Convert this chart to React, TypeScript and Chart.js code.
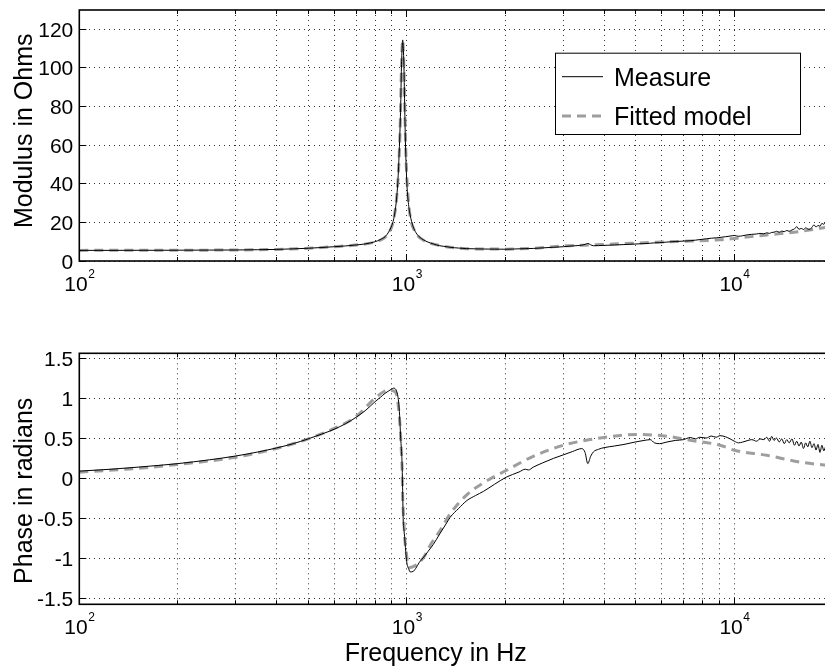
import { useEffect, useRef } from 'react';
import { Chart, registerables } from 'chart.js';

Chart.register(...registerables);

// ---------------- data ----------------
const measureFreq = [
  100, 125, 150, 175, 200, 250, 300, 350, 400, 450,
  500, 550, 600, 650, 700, 750, 800, 830, 858, 880,
  900, 910, 920, 930, 938, 942, 949, 955, 958, 962,
  967, 971, 975, 980, 984, 990, 1000, 1014, 1023, 1045,
  1065, 1090, 1126, 1160, 1205, 1260, 1324, 1355, 1440, 1524,
  1620, 1714, 1850, 2010, 2200, 2300, 2350, 2432, 2600, 2800,
  3005, 3200, 3420, 3500, 3568, 3640, 3710, 3850, 4000, 4300,
  4600, 5000, 5300, 5535, 5700, 5900, 6220, 6600, 6990, 7330,
  7600, 7850, 8200, 8500, 8800, 9040, 9400, 9700, 10000, 10300,
  10600, 11000, 11300, 11700, 11970, 12300, 12560, 12800, 13000, 13210,
  13450, 13700, 13950, 14200, 14450, 14700, 14990, 15250, 15500, 15750,
  16000, 16250, 16500, 16750, 17000, 17250, 17500, 17750, 18000, 18250,
  18500, 18750, 19000, 19300, 19600, 20000,
];

const measureModulus = [
  5.5, 5.5, 5.55, 5.55, 5.6, 5.65, 5.7, 5.85, 6.0, 6.3,
  6.6, 7.0, 7.4, 7.8, 8.3, 8.9, 10.0, 11.1, 12.6, 15.0,
  18.5, 21.2, 25.5, 32, 40.2, 46, 59.2, 73, 81.7, 98,
  110, 114.5, 111, 100, 84, 62, 40.2, 28.1, 24, 17.8,
  14.8, 12.6, 10.9, 9.8, 8.8, 7.9, 7.4, 7.1, 6.7, 6.4,
  6.3, 6.2, 6.15, 6.1, 6.3, 6.4, 6.45, 6.5, 6.8, 7.1,
  7.4, 7.8, 8.2, 8.6, 9.1, 8.4, 7.9, 8.0, 8.1, 8.3,
  8.5, 8.8, 9.0, 9.2, 9.4, 9.5, 9.8, 10.1, 10.3, 10.5,
  10.8, 11.1, 11.5, 11.8, 12.0, 12.2, 12.6, 12.9, 13.2, 12.8,
  13.1, 13.6, 13.8, 14.0, 14.3, 14.1, 14.6, 14.3, 14.8, 14.9,
  15.4, 14.9, 15.5, 15.2, 15.8, 15.4, 16.1, 16.6, 17.8, 16.4,
  16.9, 16.3, 17.2, 16.6, 16.4, 17.5, 18.7, 17.6, 18.4, 18.0,
  19.5, 19.0, 19.9, 19.3, 19.9, 19.8,
];

const measurePhase = [
  0.096, 0.12, 0.145, 0.168, 0.19, 0.238, 0.285, 0.335, 0.386, 0.44,
  0.5, 0.56, 0.62, 0.69, 0.77, 0.86, 0.966, 1.02, 1.07, 1.1,
  1.125, 1.135, 1.13, 1.1, 1.04, 0.99, 0.84, 0.61, 0.5, 0.38,
  0.19, -0.15, -0.53, -0.64, -0.72, -0.86, -1.05, -1.13, -1.165, -1.16,
  -1.12, -1.05, -0.98, -0.91, -0.82, -0.69, -0.55, -0.483, -0.37, -0.273,
  -0.21, -0.157, -0.07, 0.02, 0.085, 0.12, 0.11, 0.146, 0.2, 0.255,
  0.3, 0.34, 0.378, 0.33, 0.19, 0.28, 0.336, 0.37, 0.39, 0.41,
  0.43, 0.462, 0.48, 0.49, 0.45, 0.44, 0.46, 0.48, 0.49, 0.517,
  0.5, 0.52, 0.51, 0.535, 0.52, 0.54, 0.525, 0.5, 0.47, 0.45,
  0.46, 0.48, 0.49, 0.47, 0.5, 0.49, 0.52, 0.47, 0.53, 0.48,
  0.51, 0.46, 0.5, 0.44, 0.49, 0.45, 0.5, 0.42, 0.47, 0.41,
  0.46, 0.38, 0.45, 0.4, 0.47, 0.39, 0.44, 0.36, 0.43, 0.33,
  0.42, 0.35, 0.4, 0.36, 0.41, 0.38,
];

const modelFreq = [
  100, 150, 200, 300, 400, 500, 600, 700, 800, 850,
  880, 910, 931, 945, 955, 962, 967, 971, 975, 980,
  987, 995, 1005, 1023, 1057, 1122, 1191, 1262, 1355, 1524,
  1714, 2010, 2432, 3005, 3500, 4000, 5000, 6220, 7330, 9040,
  10000, 12560, 15850, 20000,
];

const modelModulus = [
  5.5, 5.55, 5.6, 5.7, 6.0, 6.6, 7.4, 8.3, 9.8, 11.8,
  14.5, 21, 33, 50, 72, 98, 110, 114.5, 110, 99,
  75, 52, 37, 23.5, 15.5, 10.8, 9.0, 8.0, 7.1, 6.4,
  6.2, 6.15, 6.6, 7.8, 8.2, 8.6, 9.3, 9.9, 10.3, 11.0,
  11.7, 13.5, 15.3, 18.0,
];

const modelPhase = [
  0.083, 0.13, 0.18, 0.27, 0.38, 0.5, 0.63, 0.78, 1.01, 1.09,
  1.11, 1.1, 1.05, 0.85, 0.61, 0.35, 0.15, -0.23, -0.4, -0.56,
  -0.78, -0.9, -1.05, -1.11, -1.09, -0.99, -0.8, -0.65, -0.44, -0.2,
  -0.05, 0.104, 0.281, 0.42, 0.48, 0.517, 0.555, 0.534, 0.483, 0.42,
  0.357, 0.294, 0.21, 0.16,
];

const xGridValues = [
  100, 200, 300, 400, 500, 600, 700, 800, 900,
  1000, 2000, 3000, 4000, 5000, 6000, 7000, 8000, 9000,
  10000, 20000,
];
const xLabelValues = [100, 1000, 10000];
const xLabelBase = '10';
const xLabelExponents = ['2', '3', '4'];

const modulusTicks = [0, 20, 40, 60, 80, 100, 120];
const modulusTickLabels = ['0', '20', '40', '60', '80', '100', '120'];
const phaseTicks = [-1.5, -1, -0.5, 0, 0.5, 1, 1.5];
const phaseTickLabels = ['-1.5', '-1', '-0.5', '0', '0.5', '1', '1.5'];

const seriesLabels = ['Measure', 'Fitted model'];
const modulusTitle = 'Modulus in Ohms';
const phaseTitle = 'Phase in radians';
const freqTitle = 'Frequency in Hz';

// ---------------- styling / layout ----------------
const FONT = '"Liberation Sans", Arial, Helvetica, sans-serif';
const CANVAS_W = 833;
const AXIS_LEFT = 79.3;
const AREA_H = 251;
const TICK_FONT = 21;
const TITLE_FONT = 25;

type PanelOpts = {
  height: number;
  top: number;
  measure: number[];
  model: number[];
  yMin: number;
  yMax: number;
  yTicks: number[];
  yLabels: string[];
  yTitle: string;
  yTitleCenter: number;
  xTitle?: string;
  xTitleX?: number;
  xTitleBaseline?: number;
  legend?: { x: number; y: number; w: number; h: number };
};

function toPoints(xs: number[], ys: number[]) {
  return xs.map((x, i) => ({ x, y: ys[i] }));
}

function align(p: number) {
  return Math.round(p - 0.5) + 0.5;
}

function makeConfig(o: PanelOpts): any {
  const framePlugin = {
    id: 'matlabFrame',
    afterDraw(chart: any) {
      const { ctx, chartArea: a } = chart;
      const xs = chart.scales.x;
      const ys = chart.scales.y;
      ctx.save();
      ctx.strokeStyle = '#000';
      ctx.fillStyle = '#000';
      ctx.setLineDash([]);
      ctx.lineWidth = 1;
      ctx.beginPath();
      for (const v of xGridValues) {
        const px = align(xs.getPixelForValue(v));
        const len = xLabelValues.includes(v) ? 7 : 4;
        ctx.moveTo(px, a.bottom);
        ctx.lineTo(px, a.bottom - len);
        ctx.moveTo(px, a.top);
        ctx.lineTo(px, a.top + len);
      }
      for (const v of o.yTicks) {
        const py = align(ys.getPixelForValue(v));
        ctx.moveTo(a.left, py);
        ctx.lineTo(a.left + 7, py);
        ctx.moveTo(a.right, py);
        ctx.lineTo(a.right - 7, py);
      }
      ctx.stroke();
      ctx.lineWidth = 1.6;
      ctx.strokeRect(a.left, a.top, a.right - a.left, a.bottom - a.top);

      // y tick labels
      ctx.font = `${TICK_FONT}px ${FONT}`;
      ctx.textAlign = 'right';
      ctx.textBaseline = 'alphabetic';
      o.yTicks.forEach((v, i) => {
        ctx.fillText(o.yLabels[i], a.left - 6, ys.getPixelForValue(v) + 0.358 * TICK_FONT);
      });

      // x tick labels (10 with superscript exponent)
      ctx.textAlign = 'left';
      xLabelValues.forEach((v, i) => {
        const px = xs.getPixelForValue(v);
        ctx.font = `${TICK_FONT}px ${FONT}`;
        const w1 = ctx.measureText(xLabelBase).width;
        ctx.font = `12px ${FONT}`;
        const w2 = ctx.measureText(xLabelExponents[i]).width;
        const start = px - (w1 + w2) / 2;
        const base = a.bottom + 29.7;
        ctx.font = `${TICK_FONT}px ${FONT}`;
        ctx.fillText(xLabelBase, start, base);
        ctx.font = `12px ${FONT}`;
        ctx.fillText(xLabelExponents[i], start + w1 + 0.5, base - 13);
      });

      // y title
      ctx.save();
      ctx.translate(32, o.yTitleCenter);
      ctx.rotate(-Math.PI / 2);
      ctx.font = `${TITLE_FONT}px ${FONT}`;
      ctx.textAlign = 'center';
      ctx.fillText(o.yTitle, 0, 0);
      ctx.restore();

      // x title
      if (o.xTitle) {
        ctx.font = `${TITLE_FONT}px ${FONT}`;
        ctx.textAlign = 'center';
        ctx.fillText(o.xTitle, o.xTitleX, o.xTitleBaseline);
      }

      // legend
      if (o.legend) {
        const L = o.legend;
        ctx.fillStyle = '#fff';
        ctx.fillRect(L.x, L.y, L.w, L.h);
        ctx.lineWidth = 1;
        ctx.strokeStyle = '#000';
        ctx.strokeRect(L.x + 0.5, L.y + 0.5, L.w, L.h);
        chart.data.datasets.forEach((ds: any, i: number) => {
          const ly = L.y + 24 + i * 39.3;
          ctx.save();
          ctx.strokeStyle = ds.borderColor;
          ctx.lineWidth = ds.borderWidth;
          ctx.setLineDash(ds.borderDash || []);
          ctx.beginPath();
          ctx.moveTo(L.x + 7, ly);
          ctx.lineTo(L.x + 48, ly);
          ctx.stroke();
          ctx.restore();
          ctx.fillStyle = '#000';
          ctx.font = `${TITLE_FONT}px ${FONT}`;
          ctx.textAlign = 'left';
          ctx.fillText(ds.label, L.x + 59, ly + 9.3);
        });
      }
      ctx.restore();
    },
  };

  const gridOpts = { color: '#333', lineWidth: 1, drawTicks: false };
  const borderOpts = { display: false, dash: [1, 4] };

  return {
    type: 'line',
    data: {
      datasets: [
        {
          label: seriesLabels[0],
          data: toPoints(measureFreq, o.measure),
          borderColor: '#000',
          borderWidth: 1,
          pointRadius: 0,
          cubicInterpolationMode: 'monotone',
          fill: false,
        },
        {
          label: seriesLabels[1],
          data: toPoints(modelFreq, o.model),
          borderColor: '#9e9e9e',
          borderWidth: 3,
          borderDash: [9, 6],
          pointRadius: 0,
          cubicInterpolationMode: 'monotone',
          fill: false,
        },
      ],
    },
    options: {
      responsive: false,
      animation: false,
      devicePixelRatio: 1,
      events: [],
      layout: { padding: { top: o.top, left: 0, right: 0, bottom: 0 } },
      plugins: {
        legend: { display: false },
        tooltip: { enabled: false },
        title: { display: false },
      },
      scales: {
        x: {
          type: 'logarithmic',
          min: 100,
          max: 20000,
          afterBuildTicks: (s: any) => {
            s.ticks = xGridValues.map((v) => ({ value: v }));
          },
          afterFit: (s: any) => {
            s.height = o.height - o.top - AREA_H;
          },
          ticks: { display: false },
          grid: gridOpts,
          border: borderOpts,
        },
        y: {
          type: 'linear',
          min: o.yMin,
          max: o.yMax,
          afterBuildTicks: (s: any) => {
            s.ticks = o.yTicks.map((v) => ({ value: v }));
          },
          afterFit: (s: any) => {
            s.width = AXIS_LEFT;
          },
          ticks: { display: false },
          grid: gridOpts,
          border: borderOpts,
        },
      },
    },
    plugins: [framePlugin],
  };
}

export default function App() {
  const topRef = useRef<HTMLCanvasElement>(null);
  const botRef = useRef<HTMLCanvasElement>(null);

  useEffect(() => {
    const c1 = new Chart(
      topRef.current as HTMLCanvasElement,
      makeConfig({
        height: 300,
        top: 10,
        measure: measureModulus,
        model: modelModulus,
        yMin: 0,
        yMax: 130,
        yTicks: modulusTicks,
        yLabels: modulusTickLabels,
        yTitle: modulusTitle,
        yTitleCenter: 130.8,
        legend: { x: 555, y: 52.7, w: 245, h: 81.3 },
      })
    );
    const c2 = new Chart(
      botRef.current as HTMLCanvasElement,
      makeConfig({
        height: 371,
        top: 53.3,
        measure: measurePhase,
        model: modelPhase,
        yMin: -Math.PI / 2,
        yMax: Math.PI / 2,
        yTicks: phaseTicks,
        yLabels: phaseTickLabels,
        yTitle: phaseTitle,
        yTitleCenter: 190.8,
        xTitle: freqTitle,
        xTitleX: 435.7,
        xTitleBaseline: 361,
      })
    );
    return () => {
      c1.destroy();
      c2.destroy();
    };
  }, []);

  return (
    <div
      style={{
        position: 'fixed',
        left: 0,
        top: 0,
        width: 825,
        height: 671,
        overflow: 'hidden',
        background: '#fff',
      }}
    >
      <canvas
        ref={topRef}
        width={CANVAS_W}
        height={300}
        style={{ position: 'absolute', left: 0, top: 0, width: CANVAS_W, height: 300 }}
      />
      <canvas
        ref={botRef}
        width={CANVAS_W}
        height={371}
        style={{ position: 'absolute', left: 0, top: 300, width: CANVAS_W, height: 371 }}
      />
    </div>
  );
}
